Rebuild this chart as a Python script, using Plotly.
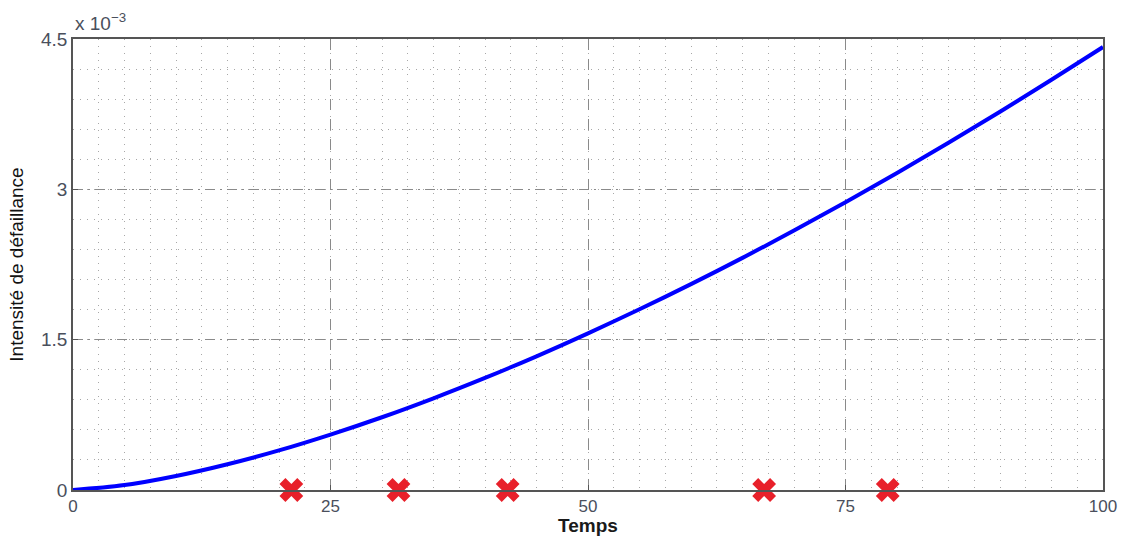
import plotly.graph_objects as go

# Failure intensity over time (values in units of 1e-3)
temps = [0, 5, 10, 15, 20, 25, 30, 35, 40, 45, 50, 55, 60, 65, 70, 75, 80, 85, 90, 95, 100]
intensite = [0.0, 0.049, 0.140, 0.257, 0.395, 0.553, 0.726, 0.915, 1.118, 1.334, 1.563,
             1.803, 2.054, 2.316, 2.589, 2.871, 3.163, 3.464, 3.774, 4.093, 4.42]

# Observed failure times
defaillances_t = [21.2, 31.6, 42.2, 67.1, 79.1]
defaillances_y = [0, 0, 0, 0, 0]

x_ticks = [0, 25, 50, 75, 100]
y_ticks = [0, 1.5, 3, 4.5]
y_tick_labels = ["0", "1.5", "3", "4.5"]

FONT = "Liberation Sans, Arial, sans-serif"
y_tick_font = dict(family=FONT, size=19, color="#4a4f5c")
x_tick_font = dict(family=FONT, size=17, color="#4a4f5c")

fig = go.Figure()
fig.add_trace(go.Scatter(
    x=temps, y=intensite, mode="lines",
    line=dict(color="#0000ff", width=4, shape="spline"),
    showlegend=False,
))
fig.add_trace(go.Scatter(
    x=defaillances_t, y=defaillances_y, mode="markers",
    marker=dict(symbol="x", size=21, color="#e8202a", line=dict(width=0)),
    cliponaxis=False, showlegend=False,
))

fig.update_layout(
    width=1122, height=536,
    margin=dict(l=73, r=19, t=39, b=46),
    paper_bgcolor="white", plot_bgcolor="white",
    xaxis=dict(
        range=[0, 100], tickvals=x_ticks, tickfont=x_tick_font, automargin=False,
        showgrid=True, gridcolor="#8a8a8a", gridwidth=1, griddash="11px,9px",
        minor=dict(dtick=2.5, tick0=0, showgrid=True, gridcolor="#a8a8a8",
                   griddash="1px,6px", gridwidth=1),
        showline=True, linecolor="#555555", linewidth=1.5, mirror=True,
        ticks="inside", ticklen=5, tickcolor="#555555",
        zeroline=False,
        title=dict(text="<b>Temps</b>", standoff=2,
                   font=dict(family=FONT, size=19, color="#1a1a1a")),
    ),
    yaxis=dict(
        range=[0, 4.5], tickvals=y_ticks, ticktext=y_tick_labels, tickfont=y_tick_font,
        automargin=False,
        showgrid=True, gridcolor="#8a8a8a", gridwidth=1, griddash="10px,5px,2px,5px",
        minor=dict(dtick=0.3, tick0=0, showgrid=True, gridcolor="#a8a8a8",
                   griddash="1px,6px", gridwidth=1),
        showline=True, linecolor="#555555", linewidth=1.5, mirror=True,
        ticks="inside", ticklen=5, tickcolor="#555555",
        zeroline=False,
        title=dict(text="Intensité de défaillance", standoff=12,
                   font=dict(family=FONT, size=19, color="#111111")),
    ),
    annotations=[dict(
        x=0, y=1, xref="paper", yref="paper", xanchor="left", yanchor="bottom",
        xshift=0, yshift=3, showarrow=False,
        text="x 10<sup>−3</sup>",
        font=dict(family=FONT, size=19, color="#4a4f5c"),
    )],
)

fig.write_html("out.html")
